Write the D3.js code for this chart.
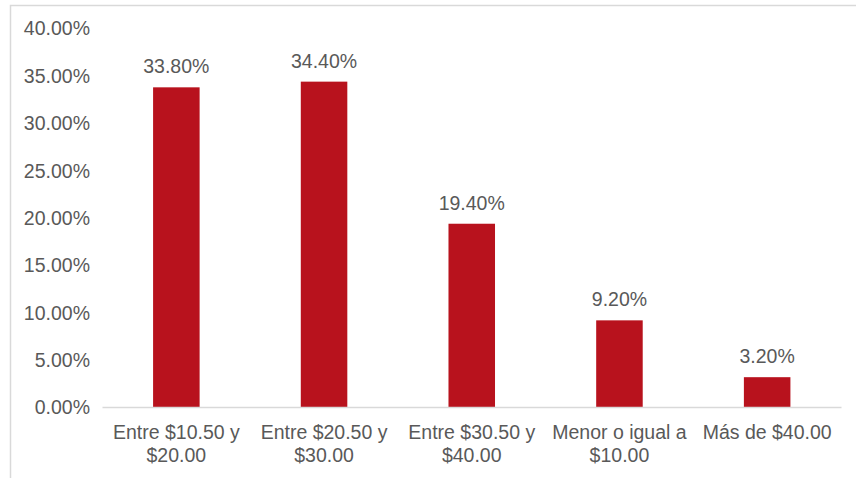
<!DOCTYPE html>
<html><head><meta charset="utf-8">
<script src="https://cdn.jsdelivr.net/npm/d3@7"></script>
<style>html,body{margin:0;padding:0;background:#fff;}svg{display:block;}</style>
</head><body>
<script>
const categories = [["Entre $10.50 y","$20.00"],["Entre $20.50 y","$30.00"],["Entre $30.50 y","$40.00"],["Menor o igual a","$10.00"],["Más de $40.00"]];
const values = [33.8, 34.4, 19.4, 9.2, 3.2];
const yTicks = [0,5,10,15,20,25,30,35,40];

const W = 856, H = 478;
const svg = d3.select("body").append("svg").attr("width", W).attr("height", H);
const font = "'Liberation Sans', Arial, sans-serif";
const fs = 19.5;
const txt = "#595959";

svg.append("rect").attr("x",10.5).attr("y",5.5).attr("width",W).attr("height",H)
  .attr("fill","#fff").attr("stroke","#d9d9d9").attr("stroke-width",1.5);

const x = d3.scaleBand().domain(d3.range(values.length)).range([102.5, 841]).paddingInner(0.685).paddingOuter(0.3425);
const y = d3.scaleLinear().domain([0,40]).range([407.5, 28.6]);

// y axis labels
svg.append("g").selectAll("text").data(yTicks).join("text")
  .attr("x", 90).attr("y", d => y(d)).attr("dy","0.35em")
  .attr("text-anchor","end").attr("font-family",font).attr("font-size",fs).attr("fill",txt)
  .text(d => d.toFixed(2) + "%");

// bars
svg.append("g").selectAll("rect").data(values).join("rect")
  .attr("x",(d,i)=>x(i)).attr("width",x.bandwidth())
  .attr("y",d=>y(d)).attr("height",d=>y(0)-y(d)).attr("fill","#b8121d");

// baseline
svg.append("line").attr("x1",102.5).attr("x2",841.5).attr("y1",y(0)).attr("y2",y(0))
  .attr("stroke","#d9d9d9").attr("stroke-width",1.5);

// value labels
svg.append("g").selectAll("text").data(values).join("text")
  .attr("x",(d,i)=>x(i)+x.bandwidth()/2).attr("y",d=>y(d)-14)
  .attr("text-anchor","middle").attr("font-family",font).attr("font-size",fs).attr("fill",txt)
  .text(d=>d.toFixed(2)+"%");

// category labels
const cg = svg.append("g").selectAll("text").data(categories).join("text")
  .attr("text-anchor","middle").attr("font-family",font).attr("font-size",fs).attr("fill",txt);
cg.each(function(lines,i){
  const t = d3.select(this);
  lines.forEach((l,j)=>{
    t.append("tspan").attr("x", x(i)+x.bandwidth()/2).attr("y", 439 + j*23).text(l);
  });
});
</script>
</body></html>
